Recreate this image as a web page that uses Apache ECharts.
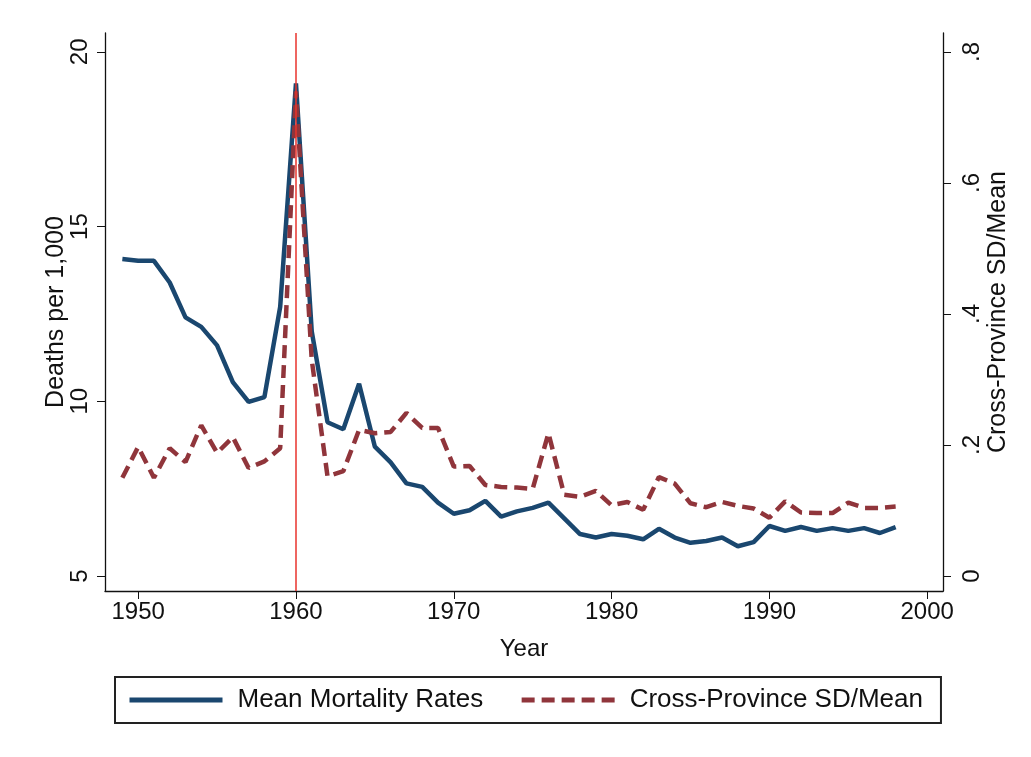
<!DOCTYPE html>
<html>
<head>
<meta charset="utf-8">
<script src="https://cdn.jsdelivr.net/npm/echarts@6/dist/echarts.min.js"></script>
<style>
html,body{margin:0;padding:0;background:#fff;}
#chart{width:1031px;height:757px;}
</style>
</head>
<body>
<div id="chart"></div>
<script>
const years = [1949,1950,1951,1952,1953,1954,1955,1956,1957,1958,1959,1960,1961,1962,1963,1964,1965,1966,1967,1968,1969,1970,1971,1972,1973,1974,1975,1976,1977,1978,1979,1980,1981,1982,1983,1984,1985,1986,1987,1988,1989,1990,1991,1992,1993,1994,1995,1996,1997,1998];
const mortality = [14.07,14.02,14.02,13.4,12.4,12.13,11.6,10.55,9.98,10.12,12.7,19.1,12.0,9.4,9.2,10.5,8.7,8.25,7.65,7.55,7.1,6.78,6.88,7.15,6.7,6.85,6.95,7.1,6.65,6.2,6.1,6.2,6.15,6.05,6.35,6.1,5.95,6.0,6.1,5.85,5.97,6.43,6.29,6.4,6.29,6.37,6.29,6.37,6.23,6.4];
const sdMean = [0.150,0.197,0.150,0.195,0.174,0.230,0.188,0.212,0.165,0.175,0.195,0.74,0.33,0.152,0.16,0.223,0.218,0.22,0.249,0.226,0.226,0.167,0.168,0.139,0.136,0.135,0.133,0.218,0.124,0.121,0.130,0.108,0.113,0.101,0.151,0.141,0.111,0.105,0.113,0.107,0.103,0.089,0.114,0.097,0.096,0.096,0.112,0.104,0.104,0.106];
const xTicks = [1950,1960,1970,1980,1990,2000];
const leftTicks = [5,10,15,20];
const rightTicks = [0,0.2,0.4,0.6,0.8];
const eventYear = 1960;

const FONT = 'Liberation Sans';
const chart = echarts.init(document.getElementById('chart'), null, {renderer:'canvas'});
const fmtRight = v => v === 0 ? '0' : String(Math.round(v*10)/10).replace(/^0/, '');

chart.setOption({
  backgroundColor:'#ffffff',
  animation:false,
  grid:{left:105, right:88, top:33, bottom:166, containLabel:false},
  xAxis:{
    type:'value', min:1947.9, max:2001,
    name:'Year', nameLocation:'middle', nameGap:46,
    nameTextStyle:{fontFamily:FONT, fontSize:24, color:'#111'},
    axisLine:{show:true, onZero:false, lineStyle:{color:'#111', width:1.3}},
    axisTick:{show:true, length:8, customValues:xTicks, lineStyle:{color:'#111'}},
    axisLabel:{customValues:xTicks, fontFamily:FONT, fontSize:24, color:'#111', margin:9, formatter:v=>String(v)},
    splitLine:{show:false}
  },
  yAxis:[{
    type:'value', min:4.57, max:20.54, position:'left',
    name:'Deaths per 1,000', nameLocation:'middle', nameGap:36, nameRotate:90, nameMoveOverlap:false,
    nameTextStyle:{fontFamily:FONT, fontSize:25, color:'#111'},
    axisLine:{show:true, onZero:false, lineStyle:{color:'#111', width:1.3}},
    axisTick:{show:true, length:8, customValues:leftTicks, lineStyle:{color:'#111'}},
    axisLabel:{customValues:leftTicks, rotate:90, fontFamily:FONT, fontSize:24, color:'#111', margin:13},
    splitLine:{show:false}
  },{
    type:'value', min:-0.0229, max:0.829, position:'right',
    name:'Cross-Province SD/Mean', nameLocation:'middle', nameGap:43, nameRotate:90, nameMoveOverlap:false,
    nameTextStyle:{fontFamily:FONT, fontSize:25, color:'#111'},
    axisLine:{show:true, onZero:false, lineStyle:{color:'#111', width:1.3}},
    axisTick:{show:true, length:8, customValues:rightTicks, lineStyle:{color:'#111'}},
    axisLabel:{customValues:rightTicks, rotate:90, fontFamily:FONT, fontSize:24, color:'#111', margin:17, formatter:fmtRight},
    splitLine:{show:false}
  }],
  legend:{
    left:115, top:677,
    orient:'horizontal',
    itemWidth:93, itemHeight:14, itemGap:36,
    padding:[10,18,10,12],
    borderColor:'#222', borderWidth:2,
    itemStyle:{opacity:0},
    lineStyle:{width:5},
    textStyle:{fontFamily:FONT, fontSize:26, color:'#111', padding:[0,0,0,10]},
    data:['Mean Mortality Rates','Cross-Province SD/Mean']
  },
  series:[{
    name:'Mean Mortality Rates', type:'line', yAxisIndex:0, symbol:'none',
    data: years.map((y,i)=>[y, mortality[i]]),
    lineStyle:{color:'#1a476f', width:4.5},
    itemStyle:{color:'#1a476f'},
    z:3
  },{
    name:'Cross-Province SD/Mean', type:'line', yAxisIndex:1, symbol:'none',
    data: years.map((y,i)=>[y, sdMean[i]]),
    lineStyle:{color:'#90353b', width:4.5, type:[13,7]},
    itemStyle:{color:'#90353b'},
    z:4,
    markLine:{
      silent:true, symbol:'none', label:{show:false},
      lineStyle:{color:'#e8332c', width:1.5, type:'solid'},
      data:[{xAxis:eventYear}]
    }
  }]
});
</script>
</body>
</html>
